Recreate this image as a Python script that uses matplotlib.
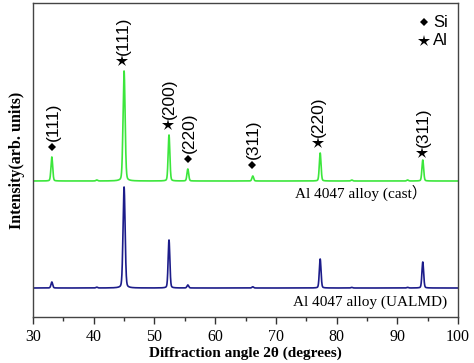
import numpy as np
import matplotlib
matplotlib.use("Agg")
import matplotlib.pyplot as plt

# ---- data ----
peak_pos = [33.1, 40.5, 45.0, 52.4, 55.5, 66.2, 77.3, 82.5, 91.7, 94.2]
cast_heights = [24, 1.0, 110, 46, 12, 5, 28, 1.0, 1.0, 21]
ualmd_heights = [6, 0.8, 101, 48, 3, 1.2, 29, 0.6, 0.6, 26]
peak_width = [0.14, 0.14, 0.17, 0.14, 0.14, 0.14, 0.14, 0.14, 0.14, 0.14]
cast_offset = 136
ualmd_offset = 29

ann_labels = ["(111)", "(111)", "(200)", "(220)", "(311)", "(220)", "(311)"]
ann_phase = ["Si", "Al", "Al", "Si", "Si", "Al", "Al"]
ann_x = [33.1, 44.7, 52.2, 55.5, 66.1, 76.9, 94.1]
ann_y = [170, 256, 192, 158, 152, 174, 164]

x_ticks = [30, 40, 50, 60, 70, 80, 90, 100]

# ---- profiles built from the listed peaks ----
two_theta = np.linspace(30, 100, 7001)

def pattern(heights):
    y = np.zeros_like(two_theta)
    for p, h, w in zip(peak_pos, heights, peak_width):
        g = np.exp(-0.5 * ((two_theta - p) / w) ** 2)
        l = 1.0 / (1.0 + ((two_theta - p) / (1.2 * w)) ** 2)
        y += h * (0.8 * g + 0.2 * l)
    return y

fig = plt.figure(figsize=(4.74, 3.63), dpi=100)
ax = fig.add_axes([33/474, 1 - 317/363, 425/474, 314/363])

green = "#3ce63c"
navy = "#1c1c8a"
ax.plot(two_theta, pattern(cast_heights) + cast_offset, color=green, lw=1.2)
ax.plot(two_theta, pattern(ualmd_heights) + ualmd_offset, color=navy, lw=1.2)

ax.set_xlim(30, 100)
ax.set_ylim(0, 314)
ax.set_yticks([])
ax.set_xticks(x_ticks)
ax.set_xticks(np.arange(35, 100, 10), minor=True)
ax.tick_params(axis="x", which="major", direction="out", length=5, width=1, color="#333333")
ax.tick_params(axis="x", which="minor", direction="out", length=3, width=1, color="#333333")
for lab in ax.get_xticklabels():
    lab.set_fontfamily("Liberation Serif")
    lab.set_fontsize(11.5)
for s in ax.spines.values():
    s.set_color("#444444")
    s.set_linewidth(1.0)

marker_of = {"Si": ("D", 4.5), "Al": ("*", 9)}
for lab, ph, x, y in zip(ann_labels, ann_phase, ann_x, ann_y):
    m, ms = marker_of[ph]
    ax.plot([x], [y], marker=m, ms=ms, color="black", mew=0)
    ax.annotate(lab, (x, y), xytext=(0.8, 4), textcoords="offset points",
                rotation=90, ha="center", va="bottom", fontsize=12.5,
                family="Liberation Sans")

# legend-like markers
ax.plot([0.92], [0.939], marker="D", ms=4.5, color="black", mew=0, transform=ax.transAxes)
ax.plot([0.92], [0.879], marker="*", ms=9, color="black", mew=0, transform=ax.transAxes)
ax.text(0.941, 0.939, "Si", transform=ax.transAxes, ha="left", va="center",
        fontsize=12, family="Liberation Sans")
ax.text(0.941, 0.879, "Al", transform=ax.transAxes, ha="left", va="center",
        fontsize=12, family="Liberation Sans")

ax.text(73.2, 124, "Al 4047 alloy (cast\uff09", ha="left", va="center", fontsize=11,
        family=["Liberation Serif", "Noto Sans CJK SC"])
ax.text(72.8, 15, "Al 4047 alloy (UALMD)", ha="left", va="center", fontsize=11,
        family="Liberation Serif")

ax.set_xlabel("Diffraction angle 2\u03b8 (degrees)", fontsize=11, fontweight="bold",
              family="Liberation Serif", labelpad=1)
ax.set_ylabel("Intensity(arb. units)", fontsize=11.5, fontweight="bold",
              family="Liberation Serif", labelpad=6)

fig.savefig("out.png", dpi=100)
